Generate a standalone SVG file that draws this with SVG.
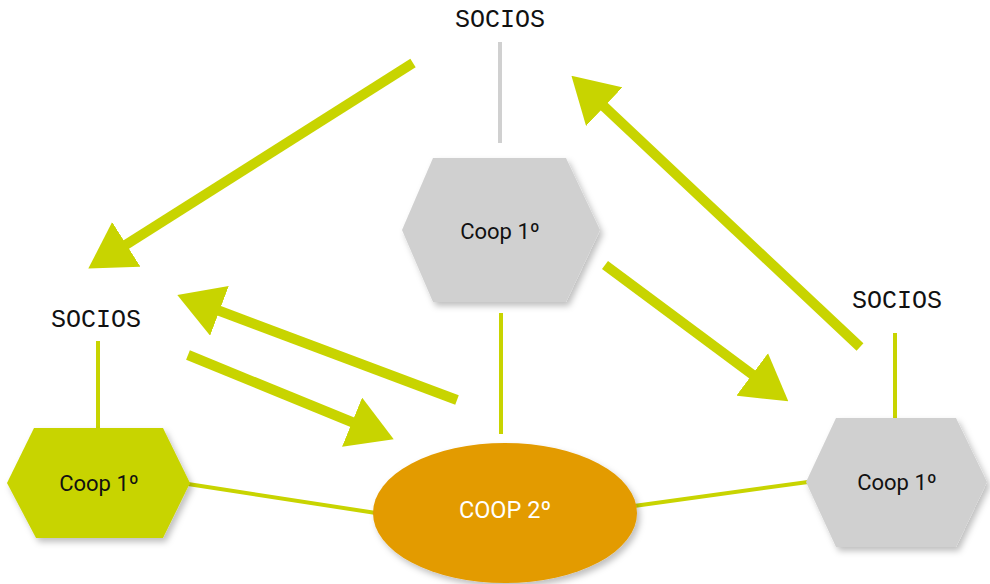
<svg xmlns="http://www.w3.org/2000/svg" width="990" height="584" viewBox="0 0 990 584">
  <style>
    .socios { font-family: "Liberation Mono", "DejaVu Sans Mono", monospace; font-size: 25px; fill: #111; text-anchor: middle; }
    .label { font-family: Roboto, "Liberation Sans", sans-serif; font-size: 22px; fill: #111; text-anchor: middle; dominant-baseline: central; }
    .label-light { fill: #ffffff; font-size: 23.5px; }
    .link { stroke: #c8d400; stroke-width: 4; fill: none; }
    .link-gray { stroke: #d0d0d0; stroke-width: 4; fill: none; }
    .flow { stroke: #c8d400; stroke-width: 10; fill: none; marker-end: url(#head); }
    .hex-gray { fill: #d0d0d0; filter: url(#shadow); }
    .hex-green { fill: #c8d400; filter: url(#shadow); }
    .ellipse { fill: #e39b00; filter: url(#shadow); }
  </style>
  <defs>
    <marker id="head" markerUnits="userSpaceOnUse" viewBox="0 0 45 53" markerWidth="45" markerHeight="53" refX="1" refY="26.5" orient="auto">
      <path d="M0,0 L45,26.5 L0,53 Z" fill="#c8d400"/>
    </marker>
    <filter id="shadow" x="-20%" y="-20%" width="140%" height="140%">
      <feDropShadow dx="3" dy="4" stdDeviation="3" flood-color="#000" flood-opacity="0.25"/>
    </filter>
  </defs>

  <rect width="990" height="584" fill="#ffffff"/>

  <g id="connectors">
    <line class="link-gray" x1="500" y1="42" x2="500" y2="143"/>
    <line class="link" x1="98" y1="341" x2="98" y2="430"/>
    <line class="link" x1="895" y1="333" x2="895" y2="420"/>
    <line class="link" x1="501" y1="313" x2="501" y2="434"/>
    <line class="link" x1="188" y1="484" x2="376" y2="513"/>
    <line class="link" x1="634" y1="506" x2="808" y2="482"/>

    <line class="flow" x1="413" y1="63" x2="125.5" y2="245"/>
    <line class="flow" x1="860" y1="347" x2="603.5" y2="106"/>
    <line class="flow" x1="605" y1="265" x2="753" y2="375"/>
    <line class="flow" x1="457" y1="400" x2="218.5" y2="310.5"/>
    <line class="flow" x1="188" y1="355" x2="353" y2="422.5"/>
  </g>

  <g id="socios-top">
    <text class="socios" x="500" y="27">SOCIOS</text>
  </g>
  <g id="socios-left">
    <text class="socios" x="96" y="327">SOCIOS</text>
  </g>
  <g id="socios-right">
    <text class="socios" x="897" y="308">SOCIOS</text>
  </g>

  <g id="coop1-top">
    <polygon class="hex-gray" points="433,158 566,158 600,230 566,302 433,302 402,230"/>
    <text class="label" x="500" y="231">Coop 1º</text>
  </g>

  <g id="coop1-left">
    <polygon class="hex-green" points="34,428 163,428 190,483 163,538 36,538 7,483"/>
    <text class="label" x="99" y="483">Coop 1º</text>
  </g>

  <g id="coop1-right">
    <polygon class="hex-gray" points="836,418 956,418 987,482 956,547 836,547 806,482"/>
    <text class="label" x="897" y="482">Coop 1º</text>
  </g>

  <g id="coop2">
    <ellipse class="ellipse" cx="505" cy="513" rx="132" ry="70"/>
    <text class="label label-light" x="505" y="510">COOP 2º</text>
  </g>
</svg>
